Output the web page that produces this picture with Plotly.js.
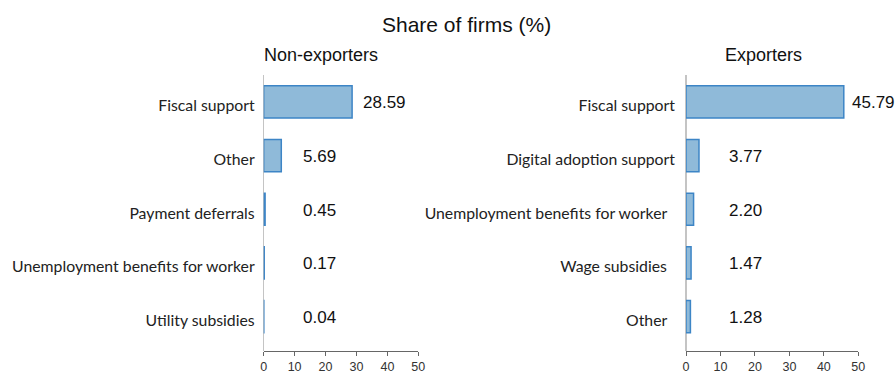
<!DOCTYPE html>
<html>
<head>
<meta charset="utf-8">
<script src="https://cdn.plot.ly/plotly-3.0.1.min.js"></script>
<style>html,body{margin:0;padding:0;background:#fff;}#chart{width:896px;height:374px;}</style>
</head>
<body>
<div id="chart"></div>
<script>
// Data
var nonExpCategories = ["Fiscal support", "Other", "Payment deferrals", "Unemployment benefits for worker", "Utility subsidies"];
var nonExpValues = [28.59, 5.69, 0.45, 0.17, 0.04];
var expCategories = ["Fiscal support", "Digital adoption support", "Unemployment benefits for worker\u00a0\u00a0", "Wage subsidies\u00a0\u00a0", "Other\u00a0\u00a0"];
var expValues = [45.79, 3.77, 2.20, 1.47, 1.28];
var xTickVals = [0, 10, 20, 30, 40, 50];
var mainTitle = "Share of firms (%)";
var leftTitle = "Non-exporters";
var rightTitle = "Exporters";

var W = 896, H = 374;
var fill = "#8fbad9", edge = "#3d85c6";
var catFont = {family: "Lato, 'Open Sans', sans-serif", size: 15.8, color: "#222"};
var numFont = {family: "Liberation Sans, Arial, sans-serif", size: 17, color: "#111"};

function idx(a){ return a.map(function(_, i){ return i; }); }

var traces = [
  {type: "bar", orientation: "h", x: nonExpValues, y: idx(nonExpCategories), width: 0.6,
   marker: {color: fill, line: {color: edge, width: 1.5}}, xaxis: "x", yaxis: "y", hoverinfo: "x+y"},
  {type: "bar", orientation: "h", x: expValues, y: idx(expCategories), width: 0.6,
   marker: {color: fill, line: {color: edge, width: 1.5}}, xaxis: "x2", yaxis: "y2", hoverinfo: "x+y"}
];

var yDom = [(H - 351) / H, (H - 75) / H];
function xAx(dom, anchor){
  return {domain: dom, anchor: anchor, range: [0, 50], autorange: false, tickvals: xTickVals,
    showline: true, linecolor: "#666", linewidth: 1.2, ticks: "outside", ticklen: 4, tickcolor: "#666",
    showgrid: false, zeroline: true, zerolinecolor: "#c4c4c4", zerolinewidth: 1.2,
    tickfont: {family: "Liberation Sans, Arial, sans-serif", size: 12.5, color: "#333"}, automargin: false, fixedrange: true};
}
function yAx(cats, anchor, standoff){
  return {domain: yDom, anchor: anchor, type: "linear", range: [4.64, -0.5], autorange: false,
    tickvals: idx(cats), ticktext: cats, showline: false, ticks: "", showgrid: false, zeroline: false,
    tickfont: catFont, ticklabelstandoff: standoff, ticklabelshift: -4, automargin: false, fixedrange: true};
}

var ann = [];
function addLabels(vals, xr, yr, shift){
  vals.forEach(function(v, i){
    ann.push({x: Math.max(v, 12), y: i, xref: xr, yref: yr, text: v.toFixed(2), showarrow: false,
      xanchor: "left", yanchor: "middle", xshift: v > 12 ? shift : 0, yshift: -1, font: numFont});
  });
}
addLabels(nonExpValues, "x", "y", 9);
addLabels(expValues, "x2", "y2", 6);
ann.push({x: 466.5 / W, y: (H - 24) / H, xref: "paper", yref: "paper", text: mainTitle, showarrow: false,
  xanchor: "center", yanchor: "middle", font: {family: "Liberation Sans, Arial, sans-serif", size: 21, color: "#111"}});
ann.push({x: 262 / W, y: (H - 55) / H, xref: "paper", yref: "paper", text: leftTitle, showarrow: false,
  xanchor: "left", yanchor: "middle", font: {family: "Liberation Sans, Arial, sans-serif", size: 18, color: "#111"}});
ann.push({x: 763 / W, y: (H - 55) / H, xref: "paper", yref: "paper", text: rightTitle, showarrow: false,
  xanchor: "center", yanchor: "middle", font: {family: "Liberation Sans, Arial, sans-serif", size: 18, color: "#111"}});

var layout = {
  width: W, height: H, margin: {l: 0, r: 0, t: 0, b: 0, pad: 0},
  paper_bgcolor: "#fff", plot_bgcolor: "#fff", showlegend: false, bargap: 0.4,
  xaxis: xAx([263.7 / W, 418.3 / W], "y"),
  yaxis: yAx(nonExpCategories, "x", 8),
  xaxis2: xAx([686 / W, 858.3 / W], "y2"),
  yaxis2: yAx(expCategories, "x2", 10),
  annotations: ann
};
Plotly.newPlot("chart", traces, layout, {displayModeBar: false, staticPlot: true});
</script>
</body>
</html>
